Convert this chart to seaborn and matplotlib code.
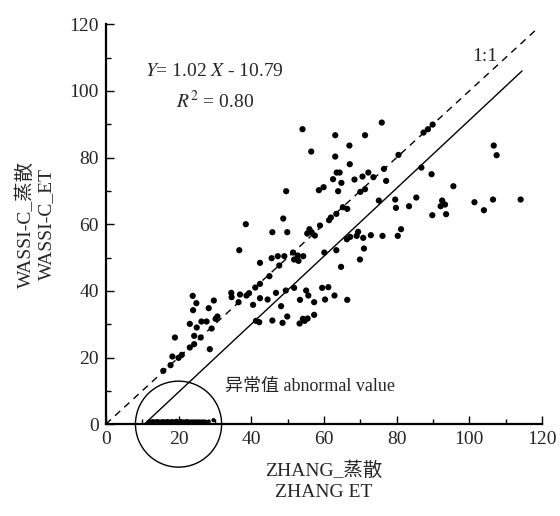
import numpy as np
import pandas as pd
import matplotlib
matplotlib.use("Agg")
import matplotlib.pyplot as plt
from matplotlib.patches import Ellipse
import seaborn as sns

# ZHANG ET (x) vs WASSI-C ET (y), normal points
zhang_et = [38.5, 54.1, 75.9, 63.1, 71.3, 67.0, 56.5, 63.1, 67.1, 80.5,
            76.5, 63.5, 64.3, 62.5, 64.8, 68.4, 70.6, 72.2, 73.6, 77.1,
            49.6, 58.6, 59.9, 63.9, 70.0, 71.3, 75.1, 79.6, 79.8, 65.2,
            66.4, 63.4, 61.9, 61.4, 48.8, 58.9, 45.8, 49.9, 56.0, 56.6,
            57.5, 69.4, 69.0, 70.8, 72.9, 76.1, 80.3, 81.2, 66.3, 67.2,
            87.4, 88.6, 89.9, 106.7, 107.5, 86.8, 89.6, 95.6, 85.4, 83.4,
            92.5, 93.3, 92.1, 89.8, 93.6, 101.4, 104.0, 106.5, 114.1, 36.7,
            42.4, 23.9, 24.9, 24.0, 29.7, 28.3, 34.5, 34.6, 36.9, 38.7,
            39.4, 41.1, 42.4, 42.4, 36.5, 40.5, 30.7, 30.2, 26.3, 27.7,
            23.1, 25.0, 29.1, 19.0, 24.3, 26.1, 24.3, 23.1, 28.6, 18.3,
            20.9, 20.0, 15.8, 17.8, 71.0, 69.9, 64.7, 63.4, 60.1, 45.6,
            47.3, 49.1, 51.5, 52.8, 51.8, 53.0, 54.3, 47.7, 45.0, 51.8,
            49.5, 46.8, 44.5, 48.2, 55.1, 55.7, 53.4, 57.3, 59.5, 61.2,
            60.3, 62.9, 66.4, 45.8, 48.6, 49.9, 53.3, 54.2, 55.5, 57.3,
            54.7, 41.3, 42.2, 55.4]
wassi_et = [60.0, 88.5, 90.5, 86.7, 86.7, 83.6, 81.8, 80.3, 78.0, 80.8,
            76.6, 75.5, 75.5, 73.5, 72.4, 73.4, 74.3, 75.5, 74.1, 73.0,
            69.9, 70.2, 71.1, 69.9, 69.7, 70.5, 67.1, 67.4, 64.9, 65.1,
            64.6, 63.1, 62.0, 61.2, 61.7, 59.6, 57.6, 57.6, 58.5, 57.6,
            56.6, 57.7, 56.5, 55.9, 56.7, 56.5, 56.5, 58.5, 55.5, 56.2,
            87.5, 88.5, 89.9, 83.6, 80.7, 77.0, 75.0, 71.4, 68.0, 65.4,
            67.1, 65.9, 65.4, 62.7, 63.0, 66.6, 64.2, 67.4, 67.4, 52.2,
            48.4, 38.5, 36.3, 34.2, 37.1, 34.8, 39.4, 38.1, 38.9, 38.6,
            39.3, 41.0, 42.1, 37.8, 36.6, 35.8, 32.3, 31.6, 30.8, 30.8,
            30.1, 29.0, 28.7, 26.0, 26.5, 26.0, 24.0, 23.0, 22.5, 20.3,
            20.8, 19.9, 16.0, 17.7, 52.7, 49.4, 47.2, 52.2, 51.5, 49.8,
            50.4, 50.4, 51.5, 50.6, 49.4, 49.0, 50.4, 47.6, 44.4, 40.9,
            40.1, 39.4, 37.4, 35.4, 40.1, 38.6, 37.3, 36.6, 40.9, 41.1,
            37.4, 38.6, 37.3, 31.1, 30.4, 32.3, 30.2, 31.6, 31.7, 32.8,
            31.0, 31.0, 30.6, 57.2]

# abnormal values lying on the x axis
abnormal_x = [11.8, 12.2, 12.5, 12.9, 13.1, 13.5, 13.8, 14.1, 14.4, 14.7,
              15.0, 15.4, 15.7, 16.0, 16.3, 16.6, 16.9, 17.2, 17.5, 17.9,
              18.2, 18.5, 18.8, 19.1, 19.4, 19.7, 20.0, 20.4, 20.7, 21.0,
              21.3, 21.7, 22.0, 22.3, 22.6, 23.0, 23.3, 23.7, 24.0, 24.3,
              24.6, 25.0, 25.3, 25.7, 26.0, 26.4, 26.7, 27.1, 27.4, 28.3,
              29.6]
abnormal_y = [0.7, 0.8, 0.7, 0.9, 0.8, 0.7, 0.8, 0.9, 0.7, 0.8,
              0.7, 0.8, 0.9, 0.7, 0.8, 0.7, 0.9, 0.8, 0.7, 0.8,
              0.9, 0.7, 0.8, 0.7, 1.0, 0.8, 0.7, 0.8, 0.9, 0.7,
              0.8, 0.7, 0.8, 0.9, 0.7, 0.8, 0.7, 0.8, 0.7, 0.8,
              0.7, 0.8, 0.7, 0.8, 0.7, 0.8, 0.7, 0.8, 0.7, 0.8,
              1.2]

fit_slope, fit_intercept = 1.02, -10.79
fit_x = np.array([10.58, 114.5])
one_x = np.array([0, 119])

df = pd.DataFrame({"x": zhang_et, "y": wassi_et})
ab = pd.DataFrame({"x": abnormal_x, "y": abnormal_y})

sns.set_style("ticks")
plt.rcParams["font.family"] = ["Liberation Serif", "Noto Sans CJK SC"]
plt.rcParams["mathtext.fontset"] = "stix"

fig = plt.figure(figsize=(5.6, 5.16), dpi=100)
ax = fig.add_axes([0.189, 0.178, 0.779, 0.775])

ax.plot(one_x, one_x, color="black", lw=1.0, ls=(0, (5, 4)))
ax.plot(fit_x, fit_slope * fit_x + fit_intercept, color="black", lw=1.0)
sns.scatterplot(data=df, x="x", y="y", ax=ax, color="black", s=20,
                edgecolor="none", legend=False)
sns.scatterplot(data=ab, x="x", y="y", ax=ax, color="black", s=9,
                edgecolor="none", legend=False, clip_on=False)

circle = Ellipse((20.0, 0.0), 23.7, 25.8, fill=False, edgecolor="black",
                 lw=1.0, clip_on=False)
ax.add_patch(circle)

ax.set_xlim(0, 120)
ax.set_ylim(0, 120)
ax.set_xticks(np.arange(0, 121, 20))
ax.set_yticks(np.arange(0, 121, 20))
ax.set_xticks(np.arange(10, 120, 20), minor=True)
ax.set_yticks(np.arange(10, 120, 20), minor=True)
ax.tick_params(which="major", direction="in", length=6, width=1.0,
               labelsize=14, color="black", pad=5)
ax.tick_params(which="minor", direction="in", length=3.5, width=1.0,
               color="black")
sns.despine(ax=ax)
for s in ["left", "bottom"]:
    ax.spines[s].set_linewidth(1.6)
    ax.spines[s].set_color("black")

ax.set_xlabel("ZHANG_蒸散\nZHANG ET", fontsize=14, linespacing=1.3,
              labelpad=10)
ax.set_ylabel("WASSI-C_蒸散\nWASSI-C_ET", fontsize=14, linespacing=1.3,
              labelpad=10)

ax.text(30, 105.7, r"$Y$= 1.02 $X$ - 10.79", fontsize=14, ha="center",
        va="center")
ax.text(30, 97.0, r"$R^2$ = 0.80", fontsize=14, ha="center", va="center")
ax.text(104.3, 110.2, "1:1", fontsize=14, ha="center", va="center")
ax.text(32.8, 11.2, "异常值 abnormal value", fontsize=13, ha="left",
        va="center")

fig.savefig("out.png", dpi=100)
